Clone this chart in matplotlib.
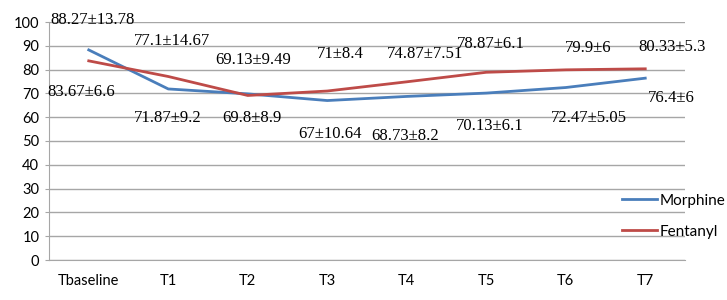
import matplotlib
matplotlib.use('Agg')
import matplotlib.pyplot as plt

# data
times = ['Tbaseline', 'T1', 'T2', 'T3', 'T4', 'T5', 'T6', 'T7']
morphine = [88.27, 71.87, 69.8, 67, 68.73, 70.13, 72.47, 76.4]
morphine_sd = ['13.78', '9.2', '8.9', '10.64', '8.2', '6.1', '5.05', '6']
fentanyl = [83.67, 77.1, 69.13, 71, 74.87, 78.87, 79.9, 80.33]
fentanyl_sd = ['6.6', '14.67', '9.49', '8.4', '7.51', '6.1', '6', '5.3']

# label offsets in pixels (dx, dy)
m_off = [(4, 30), (-1, -29), (4, -24), (3, -33), (-2, -40), (3, -33), (23, -30), (26, -20)]
f_off = [(-7, -31), (4, 36), (5, 35), (13, 37), (18, 28), (5, 28), (22, 22), (27, 22)]

fig = plt.figure(figsize=(7.27, 3.0), dpi=100)
ax = fig.add_axes([49/727, 40/300, 636/727, 238/300])

x = list(range(len(times)))
ax.plot(x, morphine, color='#4A7EBB', lw=2, label='Morphine')
ax.plot(x, fentanyl, color='#BE4B48', lw=2, label='Fentanyl')

def label(v, sd, off):
    for i in range(len(v)):
        txt = ('%g' % v[i]) + '\u00b1' + sd[i]
        ax.annotate(txt, (i, v[i]), xytext=off[i], textcoords='offset pixels',
                    ha='center', va='center', fontsize=12, family='Liberation Serif',
                    color='black')

label(morphine, morphine_sd, m_off)
label(fentanyl, fentanyl_sd, f_off)

ax.set_xlim(-0.5, 7.5)
ax.set_ylim(0, 100)
ax.set_yticks(range(0, 101, 10))
ax.set_xticks(x)
ax.set_xticklabels(times)
ax.yaxis.grid(True, color='#a6a6a6', lw=1)
ax.set_axisbelow(True)
for s in ['top', 'right']:
    ax.spines[s].set_visible(False)
for s in ['left', 'bottom']:
    ax.spines[s].set_color('#a6a6a6')
ax.tick_params(axis='y', length=3, color='#a6a6a6', labelsize=10.5, pad=4)
ax.tick_params(axis='x', length=0, labelsize=10.5, pad=10)
for t in ax.get_xticklabels() + ax.get_yticklabels():
    t.set_family('Lato')

leg = fig.legend(loc='upper left', bbox_to_anchor=(608/727, 1 - 180/300), frameon=False,
                 handlelength=2.3, handletextpad=0.15, labelspacing=1.1,
                 prop={'family': 'Lato', 'size': 11})

fig.savefig('out.png', dpi=100)
